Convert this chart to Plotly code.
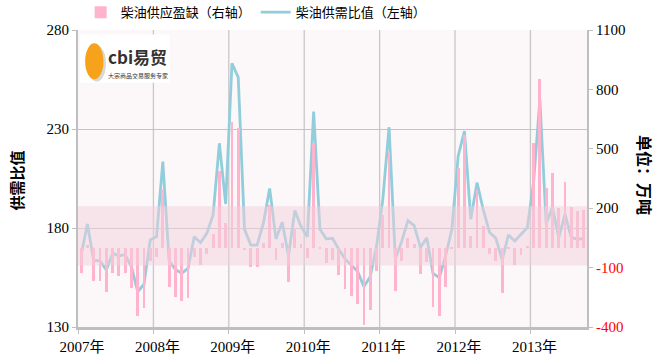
import plotly.graph_objects as go

years = ["2007年", "2008年", "2009年", "2010年", "2011年", "2012年", "2013年"]
months = list(range(81))  # Jan 2007 .. Sep 2013

ratio = [166.4, 182, 163.5, 163.5, 158.8, 167.2, 166, 166.5, 160.5, 147.8, 151.6, 174,
         175.6, 213.5, 163.5, 159.1, 157.1, 159.6, 175.6, 172.6, 177.3, 186.6, 222.8, 192.1,
         263.2, 256.1, 179.3, 171.4, 171.4, 182.4, 200, 174.5, 182.9, 165.9, 188.8, 180.7,
         175.6, 238.8, 179.3, 174.5, 174.8, 169.2, 164.4, 161.3, 158, 150.4, 155.4, 170.6,
         194.2, 230.9, 164.4, 173.1, 183.7, 181.2, 170.1, 175.1, 157.1, 154.9, 166, 179.3,
         216.4, 229, 184.4, 202.9, 189.1, 177.7, 174.8, 163.9, 176.5, 173.4, 176.8, 180.2,
         203.1, 245, 182, 190.5, 175.1, 186.9, 175.3, 174.3, 174.8]

gap = [-125, 15, -168, -168, -225, -129, -142, -129, -205, -344, -302, -67,
       -44, 297, -196, -250, -269, -252, -47, -87, -33, 68, 390, 124,
       635, 603, -12, -98, -98, 23, 216, -62, 23, -174, 98, 20,
       -50, 531, -5, -75, -61, -137, -210, -243, -285, -390, -314, -117,
       166, 485, -216, -65, 48, 18, -132, -70, -297, -343, -196, -8,
       402, 570, 60, 292, 110, -32, -67, -230, -5, -87, -37, 8,
       531, 851, 304, 376, 200, 334, 208, 186, 191]

left_ticks = [130, 180, 230, 280]
right_ticks = [-400, -100, 200, 500, 800, 1100]
band = [161, 191]

serif = "Liberation Serif, Noto Sans CJK SC"
cjk = "Noto Sans CJK SC"

fig = go.Figure()
fig.add_trace(go.Bar(
    x=months, y=gap, yaxis="y2", name="柴油供应盈缺（右轴）",
    width=0.45, marker=dict(color="#FFB3CC", line=dict(width=0)),
))
fig.add_trace(go.Scatter(
    x=months, y=ratio, yaxis="y", mode="lines", name="柴油供需比值（左轴）",
    line=dict(color="#92CDDC", width=2.8),
))

# shaded band
fig.add_shape(type="rect", xref="paper", yref="y", x0=0, x1=1, y0=band[0], y1=band[1],
              fillcolor="rgba(241,207,219,0.5)", line=dict(width=0), layer="above")
# vertical year gridlines
for i in range(1, len(years)):
    fig.add_shape(type="line", xref="x", yref="paper", x0=12 * i - 0.5, x1=12 * i - 0.5,
                  y0=0, y1=1, line=dict(color="#C8C8C8", width=1.3), layer="below")

# logo (as text + shapes)
fig.add_shape(type="rect", xref="paper", yref="paper", x0=0.004, x1=0.18, y0=0.822, y1=0.985,
              fillcolor="white", line=dict(width=0), layer="above")
fig.add_shape(type="circle", xref="paper", yref="paper", x0=0.019, x1=0.055, y0=0.826, y1=0.948,
              fillcolor="#D8D8D8", line=dict(width=0), layer="above")
fig.add_shape(type="circle", xref="paper", yref="paper", x0=0.014, x1=0.050, y0=0.834, y1=0.955,
              fillcolor="#F7A21B", line=dict(width=0), layer="above")
fig.add_annotation(xref="paper", yref="paper", x=0.116, y=0.912, xanchor="center", yanchor="middle",
                   text="<b>cbi易贸</b>", showarrow=False,
                   font=dict(family=cjk, size=17, color="#333333"))
fig.add_annotation(xref="paper", yref="paper", x=0.118, y=0.846, xanchor="center", yanchor="middle",
                   text="大宗商品交易服务专家", showarrow=False,
                   font=dict(family=cjk, size=6, color="#333333"))

# axis titles
fig.add_annotation(xref="paper", yref="paper", x=-0.119, y=0.495, xanchor="center", yanchor="middle",
                   text="<b>供需比值</b>", textangle=-90, showarrow=False,
                   font=dict(family=cjk, size=15, color="black"))
fig.add_annotation(xref="paper", yref="paper", x=1.114, y=0.512, xanchor="center", yanchor="middle",
                   text="<b>单位：万吨</b>", textangle=90, showarrow=False,
                   font=dict(family=cjk, size=16, color="black"))

right_text = [('<span style="color:red">%d</span>' % v) if v < 0 else str(v) for v in right_ticks]

fig.update_layout(
    width=662, height=360,
    margin=dict(l=78, r=75, t=30, b=33, autoexpand=False),
    paper_bgcolor="white", plot_bgcolor="#FCF7F9",
    showlegend=True,
    legend=dict(orientation="h", x=0.35, xanchor="center", y=1.06, yanchor="middle",
                font=dict(family=cjk, size=13, color="black"), bgcolor="rgba(0,0,0,0)",
                itemwidth=30),
    bargap=0,
    xaxis=dict(range=[-0.5, 80.5], tickvals=[12 * i - 0.5 for i in range(len(years))],
               ticktext=years, ticklabelshift=4, showgrid=False, zeroline=False,
               showline=True, linecolor="#BFBFBF", linewidth=2.5,
               ticks="outside", ticklen=4, tickcolor="#BFBFBF",
               tickfont=dict(family=serif, size=15, color="black")),
    yaxis=dict(range=[130, 280], tickvals=left_ticks, showgrid=True, gridcolor="#C4C4C4",
               gridwidth=1, zeroline=False, showline=True, linecolor="#BFBFBF", linewidth=2,
               ticks="outside", ticklen=4, tickcolor="#BFBFBF",
               tickfont=dict(family=serif, size=15, color="black")),
    yaxis2=dict(range=[-400, 1100], tickvals=right_ticks, ticktext=right_text,
                overlaying="y", side="right", showgrid=False, zeroline=False,
                showline=True, linecolor="#BFBFBF", linewidth=2,
                ticks="outside", ticklen=4, tickcolor="#BFBFBF",
                tickfont=dict(family=serif, size=15, color="black")),
)

fig.write_html("out.html", config={"displayModeBar": False},
               post_script="document.body.style.margin='0';document.body.style.padding='0';")
